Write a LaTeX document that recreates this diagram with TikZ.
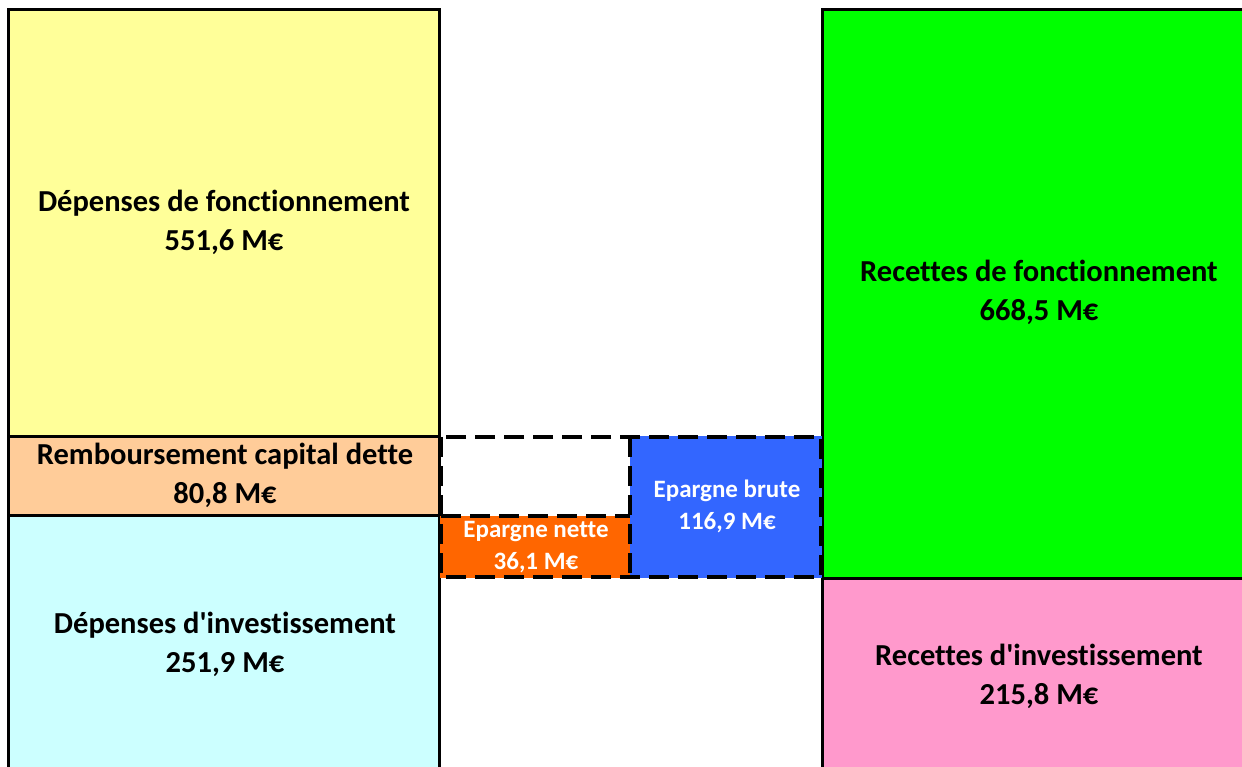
\documentclass[tikz,border=0pt]{standalone}
\usepackage{fontspec}
\setmainfont{Carlito}[Ligatures={TeXOff,CommonOff}]
\definecolor{depfonc}{HTML}{FFFF99}
\definecolor{rembdette}{HTML}{FFCC99}
\definecolor{depinv}{HTML}{CCFFFF}
\definecolor{recfonc}{HTML}{00FF00}
\definecolor{recinv}{HTML}{FF99CC}
\definecolor{epbrute}{HTML}{3366FF}
\definecolor{epnette}{HTML}{FF6600}
\tikzset{
  box/.style={draw=black, line width=3pt},
  dashbox/.style={draw=black, line width=4pt, dash pattern=on 20pt off 9pt},
  biglabel/.style={align=center, font=\fontsize{30.5}{39}\selectfont\bfseries},
  smalllabel/.style={align=center, text=white, font=\fontsize{25}{32}\selectfont\bfseries}
}
\begin{document}
\begin{tikzpicture}[x=1pt, y=-1pt]
  \path[clip] (0,0) rectangle (1242,767);
  % left column
  \draw[box, fill=depfonc] (8,10) rectangle (439,436);
  \draw[box, fill=rembdette] (8,436) rectangle (439,515);
  \draw[box, fill=depinv] (8,515) rectangle (439,790);
  % right column
  \draw[box, fill=recfonc] (822,10) rectangle (1260,578);
  \draw[box, fill=recinv] (822,578) rectangle (1260,790);
  % epargne
  \fill[epbrute] (630,436) rectangle (822,578);
  \fill[epnette] (440,516) rectangle (630,578);
  \draw[dashbox] (441,437) rectangle (821,577);
  \draw[dashbox] (630,437) -- (630,577);
  \draw[dashbox] (441,516) -- (630,516);
  % labels
  \node[biglabel] (depfonclbl) at (224,222) {Dépenses de fonctionnement\\551,6 M€};
  \node[biglabel] (rembdettelbl) at (225,475) {Remboursement capital dette\\80,8 M€};
  \node[biglabel] (depinvlbl) at (225,644) {Dépenses d'investissement\\251,9 M€};
  \node[biglabel] (recfonclbl) at (1039,292) {Recettes de fonctionnement\\668,5 M€};
  \node[biglabel] (recinvlbl) at (1039,676) {Recettes d'investissement\\215,8 M€};
  \node[smalllabel] (epbrutelbl) at (727,506) {Epargne brute\\116,9 M€};
  \node[smalllabel] (epnettelbl) at (536,547) {Epargne nette\\36,1 M€};
\end{tikzpicture}
\end{document}
